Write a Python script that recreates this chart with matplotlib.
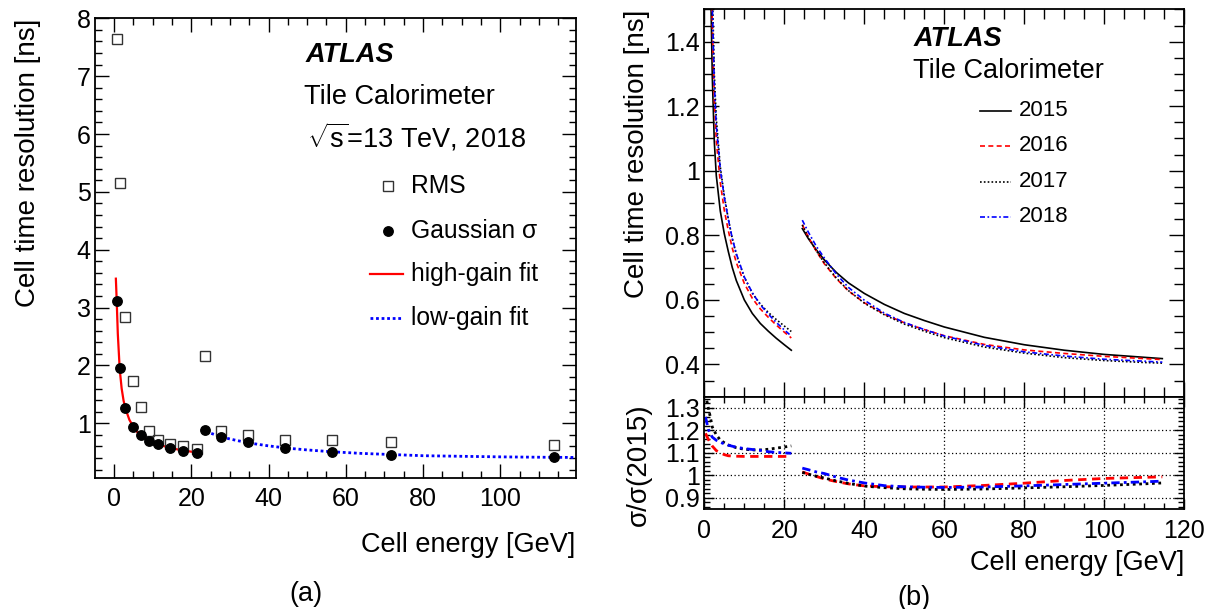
"""ATLAS Tile Calorimeter: risoluzione temporale delle celle vs energia."""
import matplotlib
matplotlib.use("Agg")
import matplotlib.pyplot as plt
from matplotlib.ticker import FuncFormatter, MultipleLocator

plt.rcParams["font.family"] = ["Liberation Sans", "DejaVu Sans"]
plt.rcParams["mathtext.fontset"] = "custom"
plt.rcParams["mathtext.rm"] = "Liberation Sans"
plt.rcParams["mathtext.it"] = "Liberation Sans:italic"

# --- (a) punti misurati 2018 ---
cell_energy = [0.8, 1.5, 2.9, 4.9, 6.9, 9.0, 11.4, 14.4, 17.8, 21.5,
               23.6, 27.7, 34.7, 44.3, 56.5, 71.6, 113.9]
rms = [7.64, 5.15, 2.84, 1.73, 1.29, 0.86, 0.72, 0.65, 0.61, 0.56,
       2.17, 0.86, 0.79, 0.72, 0.71, 0.68, 0.62]
gauss_sigma = [3.11, 1.95, 1.27, 0.94, 0.79, 0.70, 0.64, 0.58, 0.53, 0.49,
               0.885, 0.76, 0.67, 0.57, 0.51, 0.46, 0.41]

hg_fit_e = [0.5, 0.7, 1.0, 1.5, 2.0, 2.5, 3.0, 4.0, 5.0, 6.0, 8.0, 10.0,
            12.0, 14.0, 16.0, 18.0, 20.0, 21.7]
hg_fit_res = [3.50, 3.15, 2.55, 1.93, 1.60, 1.39, 1.25, 1.06, 0.945, 0.85,
              0.735, 0.675, 0.625, 0.585, 0.555, 0.53, 0.51, 0.495]
lg_fit_e = [22.6, 25, 28, 32, 36, 40, 45, 50, 56, 64, 72, 80, 90, 100, 110, 119.5]
lg_fit_res = [0.91, 0.83, 0.76, 0.70, 0.65, 0.61, 0.57, 0.54, 0.51, 0.48,
              0.46, 0.44, 0.43, 0.42, 0.414, 0.41]

# --- (b) fit per anno ---
years = ["2015", "2016", "2017", "2018"]
low_e = [1.7, 2.0, 2.5, 3.0, 4.0, 5.0, 6.0, 7.0, 8.0, 10.0, 12.0, 14.0,
         16.0, 18.0, 20.0, 21.75]
low_res = {
    "2015": [1.50, 1.29, 1.09, 0.985, 0.875, 0.805, 0.75, 0.70, 0.66, 0.60,
             0.558, 0.527, 0.503, 0.481, 0.461, 0.444],
    "2016": [1.71, 1.46, 1.22, 1.093, 0.963, 0.878, 0.815, 0.760, 0.716,
             0.651, 0.605, 0.572, 0.546, 0.522, 0.500, 0.482],
    "2017": [1.87, 1.57, 1.30, 1.162, 1.012, 0.922, 0.851, 0.790, 0.741,
             0.670, 0.621, 0.587, 0.561, 0.539, 0.519, 0.502],
    "2018": [1.77, 1.51, 1.27, 1.139, 1.004, 0.918, 0.850, 0.790, 0.743,
             0.671, 0.622, 0.585, 0.556, 0.530, 0.507, 0.488],
}
high_e = [24.5, 26, 28, 30, 33, 36, 40, 45, 50, 55, 60, 70, 80, 90, 100,
          110, 114.5]
high_res = {
    "2015": [0.821, 0.790, 0.755, 0.724, 0.685, 0.653, 0.620, 0.586, 0.558,
             0.536, 0.516, 0.484, 0.461, 0.444, 0.431, 0.422, 0.418],
    "2016": [0.833, 0.795, 0.751, 0.712, 0.666, 0.628, 0.591, 0.556, 0.529,
             0.508, 0.489, 0.462, 0.445, 0.434, 0.425, 0.418, 0.415],
    "2017": [0.832, 0.794, 0.752, 0.715, 0.668, 0.629, 0.590, 0.554, 0.525,
             0.503, 0.483, 0.454, 0.435, 0.421, 0.412, 0.406, 0.404],
    "2018": [0.847, 0.810, 0.766, 0.730, 0.680, 0.639, 0.599, 0.559, 0.530,
             0.508, 0.488, 0.459, 0.439, 0.426, 0.416, 0.410, 0.407],
}

ratio_low_e = [0.3, 1.0, 1.5, 2.0, 3.0, 4.0, 5.0, 6.0, 8.0, 10.0, 12.0,
               14.0, 16.0, 18.0, 20.0, 21.75]
ratio_low = {
    "2016": [1.187, 1.16, 1.145, 1.13, 1.11, 1.10, 1.092, 1.087, 1.085,
             1.084, 1.084, 1.084, 1.084, 1.084, 1.084, 1.084],
    "2017": [1.36, 1.30, 1.26, 1.215, 1.18, 1.157, 1.145, 1.135, 1.123,
             1.116, 1.113, 1.113, 1.116, 1.121, 1.126, 1.131],
    "2018": [1.26, 1.205, 1.185, 1.17, 1.156, 1.147, 1.14, 1.134, 1.125,
             1.119, 1.115, 1.111, 1.105, 1.102, 1.10, 1.098],
}
ratio_high = {
    "2016": [1.015, 1.006, 0.995, 0.984, 0.972, 0.962, 0.953, 0.949, 0.948,
             0.948, 0.948, 0.955, 0.965, 0.977, 0.986, 0.991, 0.993],
    "2017": [1.013, 1.005, 0.996, 0.988, 0.975, 0.964, 0.952, 0.945, 0.940,
             0.938, 0.937, 0.939, 0.944, 0.949, 0.955, 0.962, 0.966],
    "2018": [1.032, 1.025, 1.015, 1.008, 0.992, 0.979, 0.966, 0.954, 0.949,
             0.947, 0.946, 0.948, 0.953, 0.959, 0.965, 0.971, 0.974],
}

year_style = {
    "2015": dict(color="black", linestyle="-"),
    "2016": dict(color="red", linestyle=(0, (3, 2))),
    "2017": dict(color="black", linestyle=(0, (1, 1.3))),
    "2018": dict(color="blue", linestyle=(0, (3, 1.5, 1, 1.5))),
}

W, H = 1212, 609
FS_TEXT = 19.5
FS_TICK = 18
fmt_g = FuncFormatter(lambda v, _: f"{v:g}")


def root_style(ax, xmaj, xmin, ymaj, ymin, major_len, minor_len):
    """Tick verso l'interno su tutti i lati, stile ROOT/ATLAS."""
    ax.xaxis.set_major_locator(MultipleLocator(xmaj))
    ax.xaxis.set_minor_locator(MultipleLocator(xmin))
    ax.yaxis.set_major_locator(MultipleLocator(ymaj))
    ax.yaxis.set_minor_locator(MultipleLocator(ymin))
    ax.xaxis.set_major_formatter(fmt_g)
    ax.yaxis.set_major_formatter(fmt_g)
    ax.tick_params(which="both", direction="in", top=True, right=True,
                   width=1.0, labelsize=FS_TICK)
    ax.tick_params(which="major", length=major_len)
    ax.tick_params(which="minor", length=minor_len)
    ax.tick_params(axis="x", pad=7)
    ax.tick_params(axis="y", pad=3)
    for s in ax.spines.values():
        s.set_linewidth(1.3)


fig = plt.figure(figsize=(W / 100, H / 100), dpi=100)

# ---------------- (a) ----------------
ax = fig.add_axes([95 / W, 1 - 477.7 / H, 480.7 / W, 459.4 / H])
ax.plot(hg_fit_e, hg_fit_res, color="red", lw=1.6, zorder=2)
ax.plot(lg_fit_e, lg_fit_res, color="blue", lw=2.0, linestyle=(0, (1.0, 1.0)), zorder=2)
ax.plot(cell_energy, rms, linestyle="none", marker="s", ms=7.2, mfc="none",
        mec="#333333", mew=1.0, zorder=3)
ax.plot(cell_energy, gauss_sigma, linestyle="none", marker="o", ms=6.8,
        color="black", zorder=4)
ax.set_xlim(-4.9, 119.5)
ax.set_ylim(0.06, 8)
root_style(ax, 20, 5, 1, 0.2, 10, 5)
ax.set_xlabel("Cell energy [GeV]", fontsize=FS_TEXT, loc="right")
ax.xaxis.set_label_coords(1.0, -0.118)
ax.set_ylabel("Cell time resolution [ns]", fontsize=20, loc="top")
ax.yaxis.set_label_coords(-0.112, 1.0)

ta = ax.transAxes
ax.text(0.439, 0.921, "ATLAS", transform=ta, fontsize=FS_TEXT,
        fontweight="bold", fontstyle="italic", va="center")
ax.text(0.435, 0.829, "Tile Calorimeter", transform=ta, fontsize=FS_TEXT, va="center")
ax.text(0.441, 0.742, r"$\sqrt{\mathrm{s}}$=13 TeV, 2018", transform=ta,
        fontsize=FS_TEXT, va="center")
# legenda
ax.plot([0.61], [0.636], transform=ta, marker="s", ms=7.2, mfc="none",
        mec="#333333", mew=1.0, clip_on=False)
ax.plot([0.61], [0.537], transform=ta, marker="o", ms=6.8, color="black", clip_on=False)
ax.plot([0.573, 0.64], [0.444, 0.444], transform=ta, color="red", lw=1.6)
ax.plot([0.573, 0.64], [0.348, 0.348], transform=ta, color="blue", lw=2.0,
        linestyle=(0, (1.0, 1.0)))
for y, lab in zip([0.636, 0.537, 0.444, 0.348],
                  ["RMS", "Gaussian σ", "high-gain fit", "low-gain fit"]):
    ax.text(0.657, y, lab, transform=ta, fontsize=17.7, va="center")

fig.text(306 / W, 1 - 594 / H, "(a)", fontsize=FS_TEXT, ha="center", va="center")

# ---------------- (b) ----------------
axb = fig.add_axes([704.3 / W, 1 - 396.7 / H, 480 / W, 387.3 / H])
axr = fig.add_axes([704.3 / W, 1 - 509 / H, 480 / W, 112.3 / H], sharex=axb)

for yr in years:
    st = year_style[yr]
    axb.plot(low_e, low_res[yr], lw=1.2, **st)
    axb.plot(high_e, high_res[yr], lw=1.2, **st)
for yr in ["2016", "2017", "2018"]:
    st = year_style[yr]
    axr.plot(ratio_low_e, ratio_low[yr], lw=2.0, **st)
    axr.plot(high_e, ratio_high[yr], lw=2.0, **st)

axb.set_xlim(0, 120)
axb.set_ylim(0.3, 1.5)
axr.set_ylim(0.85, 1.35)
root_style(axb, 20, 5, 0.2, 0.05, 11, 7)
root_style(axr, 20, 5, 0.1, 0.02, 7, 4)
axb.tick_params(labelbottom=False)
axr.grid(True, which="major", color="black", linestyle=(0, (1, 2)), lw=0.9)

axb.set_ylabel("Cell time resolution [ns]", fontsize=20, loc="top")
axb.yaxis.set_label_coords(-0.113, 1.0)
axr.set_ylabel("σ/σ(2015)", fontsize=20, loc="top")
axr.yaxis.set_label_coords(-0.11, 0.944)
axr.set_xlabel("Cell energy [GeV]", fontsize=FS_TEXT, loc="right")
axr.xaxis.set_label_coords(1.0, -0.365)

tb = axb.transAxes
axb.text(0.436, 0.923, "ATLAS", transform=tb, fontsize=FS_TEXT,
         fontweight="bold", fontstyle="italic", va="center")
axb.text(0.434, 0.842, "Tile Calorimeter", transform=tb, fontsize=FS_TEXT, va="center")
for y, yr in zip([0.738, 0.648, 0.555, 0.464], years):
    axb.plot([0.575, 0.639], [y, y], transform=tb, lw=1.2, **year_style[yr])
    axb.text(0.655, y, yr, transform=tb, fontsize=16, va="center")

fig.text(913.7 / W, 1 - 598 / H, "(b)", fontsize=FS_TEXT, ha="center", va="center")

fig.savefig("out.png", dpi=100)
